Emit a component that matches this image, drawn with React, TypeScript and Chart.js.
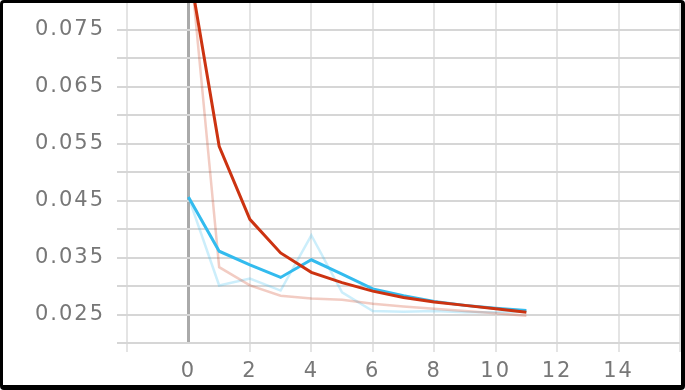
import React, { useEffect, useRef } from "react";
import { Chart, registerables } from "chart.js";

Chart.register(...registerables);

const steps = [0, 1, 2, 3, 4, 5, 6, 7, 8, 9, 10, 11];
const redSmooth = [0.0864, 0.0545, 0.0417, 0.0358, 0.0324, 0.0306, 0.0291, 0.028, 0.0272, 0.0266, 0.026, 0.0254];
const redRaw = [0.09, 0.0333, 0.0301, 0.0283, 0.0278, 0.0276, 0.0269, 0.0264, 0.026, 0.0256, 0.0252, 0.0248];
const blueSmooth = [0.0456, 0.0361, 0.0337, 0.0315, 0.0346, 0.0321, 0.0295, 0.0283, 0.0273, 0.0266, 0.0261, 0.0257];
const blueRaw = [0.0456, 0.0301, 0.0313, 0.0292, 0.0389, 0.0289, 0.0256, 0.0255, 0.0256, 0.0254, 0.0254, 0.0255];
const xTickLabels = ["0", "2", "4", "6", "8", "10", "12", "14"];
const yTickLabels = ["0.025", "0.035", "0.045", "0.055", "0.065", "0.075"];

const toPoints = (ys: number[]) => steps.map((x, i) => ({ x, y: ys[i] }));

const spacingPlugin = {
  id: "letterSpacing",
  beforeUpdate(chart: any) {
    chart.ctx.letterSpacing = "2px";
  },
  beforeLayout(chart: any) {
    chart.ctx.letterSpacing = "2px";
  },
  beforeDraw(chart: any) {
    chart.ctx.letterSpacing = "2px";
  },
};

export default function App() {
  const ref = useRef<HTMLCanvasElement>(null);
  useEffect(() => {
    document.body.style.margin = "0";
    const tickFont = { family: "DejaVu Sans", size: 21 };
    const chart = new Chart(ref.current!, {
      type: "line",
      data: {
        datasets: [
          { data: toPoints(redSmooth), borderColor: "#cc3311", borderWidth: 3, pointRadius: 0, order: 0 },
          { data: toPoints(blueSmooth), borderColor: "#33bbee", borderWidth: 3, pointRadius: 0, order: 1 },
          { data: toPoints(redRaw), borderColor: "rgba(204,51,17,0.25)", borderWidth: 2.5, pointRadius: 0, order: 2 },
          { data: toPoints(blueRaw), borderColor: "rgba(51,187,238,0.25)", borderWidth: 2.5, pointRadius: 0, order: 3 },
        ],
      },
      options: {
        animation: false,
        responsive: false,
        events: [],
        layout: { padding: { top: 1, right: 5, left: 0, bottom: 0 } },
        plugins: { legend: { display: false }, tooltip: { enabled: false } },
        scales: {
          x: {
            type: "linear",
            min: -2,
            max: 16,
            afterFit(scale: any) {
              scale.height = 47;
              scale.paddingLeft = 0;
              scale.paddingRight = 0;
            },
            border: { display: false },
            grid: {
              color: (c: any) => (c.tick && c.tick.value === 0 ? "#aaaaaa" : "#e4e4e4"),
              lineWidth: (c: any) => (c.tick && c.tick.value === 0 ? 3 : 2),
              tickColor: (c: any) => (c.tick && c.tick.value === 0 ? "rgba(0,0,0,0)" : "#e4e4e4"),
              tickLength: 9,
            },
            ticks: {
              stepSize: 2,
              autoSkip: false,
              maxRotation: 0,
              padding: 7,
              color: "#777777",
              font: tickFont,
              callback: (v: any) => {
                const s = String(v);
                return xTickLabels.includes(s) ? s : "";
              },
            },
          },
          y: {
            min: 0.02,
            max: 0.08,
            afterFit(scale: any) {
              scale.width = 127;
              scale.paddingTop = 0;
              scale.paddingBottom = 0;
            },
            border: { display: false },
            grid: { color: "#d6d6d6", lineWidth: 2, tickLength: 10 },
            ticks: {
              stepSize: 0.005,
              autoSkip: false,
              padding: 12,
              color: "#777777",
              font: tickFont,
              callback: (v: any) => {
                const s = Number(v).toFixed(3);
                return yTickLabels.includes(s) ? s : "";
              },
            },
          },
        },
      },
      plugins: [spacingPlugin],
    });
    return () => chart.destroy();
  }, []);
  return (
    <div style={{ position: "fixed", left: 0, top: 0, width: 685, height: 390, background: "#fff" }}>
      <canvas ref={ref} width={685} height={390} style={{ position: "absolute", left: 0, top: 0 }} />
      <div
        style={{
          position: "absolute",
          left: 0,
          top: 0,
          width: 685,
          height: 390,
          boxSizing: "border-box",
          borderStyle: "solid",
          borderColor: "#000",
          borderWidth: "3px 4px 5px 3px",
          borderRadius: 4,
          pointerEvents: "none",
        }}
      />
    </div>
  );
}
